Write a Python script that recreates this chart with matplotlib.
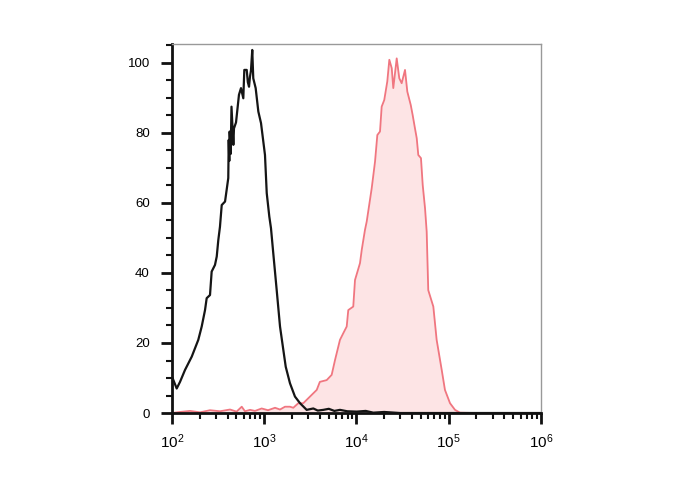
import numpy as np
import matplotlib
matplotlib.use('Agg')
import matplotlib.pyplot as plt
from matplotlib.ticker import FixedLocator, MultipleLocator, NullFormatter

plt.rcParams['font.family'] = ['Liberation Sans', 'DejaVu Sans']
plt.rcParams['mathtext.fontset'] = 'custom'
plt.rcParams['mathtext.rm'] = 'Liberation Sans'
plt.rcParams['mathtext.it'] = 'Liberation Sans'

# log10 of fluorescence intensity, and count (% of max) -- unstained control
ctrl_log = [2.000, 2.051, 2.087, 2.141, 2.214, 2.285, 2.322, 2.358, 2.376, 2.412,
            2.430, 2.466, 2.485, 2.502, 2.520, 2.539, 2.575, 2.610, 2.615, 2.621,
            2.625, 2.636, 2.645, 2.665, 2.672, 2.694, 2.726, 2.748, 2.773, 2.784,
            2.810, 2.822, 2.835, 2.845, 2.856, 2.870, 2.881, 2.907, 2.936, 2.965,
            3.008, 3.027, 3.055, 3.073, 3.098, 3.135, 3.171, 3.207, 3.233, 3.279,
            3.333, 3.388, 3.460, 3.532, 3.580, 3.640, 3.700, 3.760, 3.821, 3.900,
            4.002, 4.100, 4.182, 4.300, 4.472, 5.014, 6.000]
ctrl_cnt = [10.4, 7.0, 8.9, 12.3, 16.1, 20.9, 24.7, 29.4, 32.8, 33.7,
            40.4, 42.3, 44.7, 49.4, 53.2, 59.4, 60.4, 67.1, 78.0, 72.0,
            80.4, 74.0, 87.5, 76.6, 81.3, 83.0, 90.9, 92.8, 89.9, 98.0,
            98.0, 94.5, 93.2, 96.0, 97.8, 103.7, 95.6, 92.8, 86.1, 82.8,
            73.7, 62.8, 56.1, 52.8, 45.6, 35.1, 24.7, 18.0, 13.2, 8.5,
            4.7, 2.8, 0.9, 1.3, 0.7, 0.9, 1.2, 0.6, 0.9, 0.5,
            0.4, 0.6, 0.1, 0.3, 0.0, 0.0, 0.0]

# stained sample
stain_log = [2.000, 2.087, 2.195, 2.304, 2.412, 2.520, 2.629, 2.700, 2.756, 2.791,
             2.846, 2.900, 2.972, 3.041, 3.117, 3.171, 3.225, 3.279, 3.315, 3.369,
             3.423, 3.496, 3.569, 3.603, 3.677, 3.731, 3.767, 3.821, 3.857, 3.894,
             3.911, 3.965, 3.984, 4.038, 4.057, 4.092, 4.111, 4.165, 4.201, 4.226,
             4.255, 4.273, 4.301, 4.334, 4.356, 4.382, 4.399, 4.436, 4.464, 4.490,
             4.526, 4.551, 4.588, 4.609, 4.634, 4.653, 4.670, 4.699, 4.718, 4.743,
             4.761, 4.778, 4.833, 4.869, 4.924, 4.959, 5.014, 5.068, 5.122, 5.300,
             6.000]
stain_cnt = [0.0, 0.3, 0.6, 0.2, 0.8, 0.5, 1.0, 0.4, 1.8, 0.5,
             0.9, 0.6, 1.3, 0.8, 1.5, 1.0, 1.8, 1.8, 1.5, 2.8,
             2.8, 4.7, 6.6, 8.9, 9.4, 10.9, 15.1, 20.9, 22.8, 24.7,
             29.4, 30.4, 38.0, 42.8, 46.6, 52.3, 54.7, 64.2, 71.8, 79.4,
             80.4, 87.5, 89.4, 94.7, 100.9, 98.5, 92.8, 101.3, 95.6, 94.2,
             98.0, 91.8, 88.0, 85.1, 81.3, 78.5, 73.7, 72.8, 65.1, 58.5,
             51.8, 35.1, 30.4, 20.9, 12.3, 6.6, 2.8, 0.9, 0.1, 0.0,
             0.0]

ctrl_x = np.power(10.0, ctrl_log)
stain_x = np.power(10.0, stain_log)

fig = plt.figure(figsize=(6.88, 4.90), dpi=100)
ax = fig.add_axes([0.25, 0.1571, 0.5363, 0.7531])

ax.fill_between(stain_x, stain_cnt, 0, color='#fde4e5', lw=0, zorder=1)
ax.plot(stain_x, stain_cnt, color='#f07680', lw=1.3, zorder=2)
ax.plot(ctrl_x, ctrl_cnt, color='#151515', lw=1.6, zorder=3)

ax.set_xscale('log')
ax.set_xlim(1e2, 1e6)
ax.set_ylim(0, 105.4)

ax.xaxis.set_major_locator(FixedLocator([1e2, 1e3, 1e4, 1e5, 1e6]))
ax.set_xticklabels([r'$\mathregular{10^{%d}}$' % k for k in range(2, 7)])
minors = [m * 10.0 ** k for k in range(2, 6) for m in range(2, 10)]
ax.xaxis.set_minor_locator(FixedLocator(minors))
ax.xaxis.set_minor_formatter(NullFormatter())

ax.yaxis.set_major_locator(MultipleLocator(20))
ax.yaxis.set_minor_locator(MultipleLocator(5))

ax.tick_params(axis='both', which='major', direction='out', length=8, width=2,
               color='#111111')
ax.tick_params(axis='both', which='minor', direction='out', length=4, width=1.5,
               color='#111111')
ax.tick_params(axis='y', which='major', pad=8, labelsize=9.5)
ax.tick_params(axis='x', which='major', pad=6, labelsize=11)

for s in ['left', 'bottom']:
    ax.spines[s].set_color('#111111')
    ax.spines[s].set_linewidth(2.0)
for s in ['top', 'right']:
    ax.spines[s].set_color('#999999')
    ax.spines[s].set_linewidth(1.0)

fig.savefig('out.png', dpi=100)
